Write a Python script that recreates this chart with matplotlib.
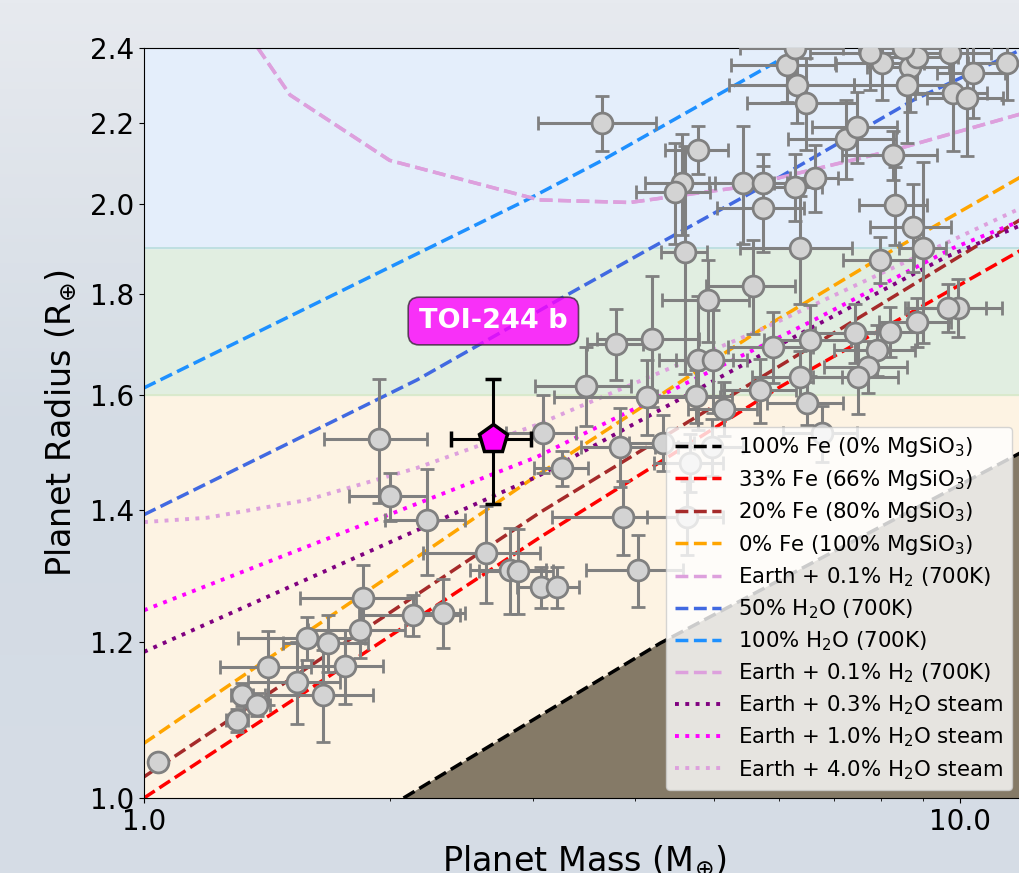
import numpy as np
import matplotlib.pyplot as plt
from matplotlib.ticker import FixedLocator, FixedFormatter, NullLocator, NullFormatter
from matplotlib.colors import LinearSegmentedColormap

# --- composition curves (mass in Earth masses, radius in Earth radii) ---
fe100_m = [2.08, 4.29, 12.0]
fe100_r = [1.0, 1.198, 1.50]

fe33_m = [1.0, 3.06, 6.02, 12.0]
fe33_r = [1.0, 1.356, 1.616, 1.90]

fe20_m = [1.0, 3.06, 5.69, 10.29, 12.0]
fe20_r = [1.025, 1.396, 1.633, 1.896, 1.97]

fe0_m = [1.0, 3.06, 5.69, 8.28, 12.0]
fe0_r = [1.066, 1.461, 1.727, 1.896, 2.07]

h2_m = [1.379, 1.51, 2.0, 3.05, 3.94, 4.89, 5.38, 6.37, 8.28, 12.0]
h2_r = [2.40, 2.272, 2.105, 2.010, 2.004, 2.029, 2.040, 2.075, 2.13, 2.225]

h2o50_m = [1.0, 2.16, 3.30, 4.14, 6.02, 8.76, 12.0]
h2o50_r = [1.392, 1.629, 1.799, 1.896, 2.065, 2.258, 2.40]

h2o100_m = [1.0, 2.945, 3.62, 5.80, 6.5]
h2o100_r = [1.614, 2.010, 2.102, 2.347, 2.41]

steam03_m = [1.0, 3.03, 6.55, 9.6, 12.0]
steam03_r = [1.186, 1.455, 1.730, 1.88, 1.955]

steam10_m = [1.0, 3.03, 6.55, 9.8, 12.0]
steam10_r = [1.245, 1.489, 1.743, 1.90, 1.965]

steam40_m = [1.0, 1.195, 1.584, 2.16, 3.03, 5.69, 12.0]
steam40_r = [1.380, 1.387, 1.416, 1.470, 1.546, 1.727, 1.995]

# --- known small planets ---
pl_mass = [1.04, 1.30, 1.32, 1.375, 1.42, 1.54, 1.584, 1.68, 1.657, 1.763,
           1.839, 1.855, 2.136, 2.325, 2.002, 2.223, 1.941, 2.625, 2.809, 2.873,
           3.066, 3.208, 3.08, 3.253, 3.481, 3.787, 4.193, 4.134, 4.603, 4.911,
           5.577, 4.775, 4.981, 4.748, 5.138, 5.688, 3.831, 4.325, 4.967, 4.668,
           3.864, 4.629, 4.031,
           3.641, 4.775, 4.564, 4.475, 5.422, 5.736, 5.736, 6.279, 6.644, 7.251,
           7.480, 8.277, 6.368, 8.323, 8.758, 7.980, 9.009, 9.943, 9.667, 8.857,
           8.207, 7.437, 6.551, 5.900, 7.912, 7.714, 7.499, 6.368, 6.495, 6.776,
           6.138, 6.314, 6.477, 6.279, 8.025, 7.757, 8.683, 8.857, 8.610, 8.513,
           9.721, 10.37, 11.42, 9.804, 10.20]
pl_mass_err = [0.02, 0.04, 0.04, 0.05, 0.18, 0.20, 0.28, 0.20, 0.25, 0.20,
               0.25, 0.30, 0.30, 0.15, 0.22, 0.25, 0.28, 0.43, 0.30, 0.30,
               0.20, 0.20, 0.30, 0.25, 0.47, 0.30, 0.60, 0.95, 0.30, 0.60,
               0.70, 0.50, 0.50, 0.50, 0.50, 0.60, 0.40, 0.40, 0.45, 0.45,
               0.70, 0.50, 0.55,
               0.60, 0.42, 0.45, 0.47, 0.50, 0.40, 0.70, 0.50, 0.45, 1.10,
               0.90, 1.10, 1.00, 0.80, 1.00, 0.80, 0.60, 1.30, 1.10, 0.90,
               0.80, 0.80, 0.80, 0.70, 0.90, 0.90, 0.90, 0.80, 0.70, 0.70,
               0.90, 1.10, 1.00, 0.90, 1.00, 1.20, 1.00, 1.10, 1.20, 1.00,
               1.20, 1.00, 1.20, 1.00, 1.10]
pl_radius = [1.043, 1.095, 1.128, 1.115, 1.165, 1.145, 1.205, 1.198, 1.128, 1.166,
             1.217, 1.263, 1.238, 1.241, 1.422, 1.383, 1.521, 1.331, 1.305, 1.304,
             1.279, 1.279, 1.531, 1.470, 1.618, 1.699, 1.709, 1.597, 1.891, 1.788,
             1.818, 1.667, 1.667, 1.599, 1.575, 1.610, 1.507, 1.514, 1.507, 1.479,
             1.388, 1.388, 1.305,
             2.199, 2.131, 2.050, 2.029, 2.050, 2.050, 1.991, 2.040, 2.063, 2.159,
             2.189, 2.118, 1.900, 1.998, 1.947, 1.874, 1.900, 1.772, 1.772, 1.743,
             1.723, 1.721, 1.707, 1.693, 1.687, 1.654, 1.635, 1.635, 1.586, 1.531,
             2.353, 2.298, 2.251, 2.400, 2.358, 2.386, 2.347, 2.375, 2.298, 2.400,
             2.386, 2.331, 2.358, 2.278, 2.265]
pl_radius_err = [0.01, 0.015, 0.015, 0.015, 0.05, 0.055, 0.03, 0.04, 0.06, 0.05,
                 0.04, 0.05, 0.03, 0.05, 0.04, 0.085, 0.11, 0.075, 0.065, 0.065,
                 0.03, 0.03, 0.07, 0.03, 0.075, 0.07, 0.13, 0.07, 0.25, 0.085,
                 0.10, 0.13, 0.10, 0.05, 0.05, 0.06, 0.07, 0.05, 0.05, 0.05,
                 0.06, 0.06, 0.055,
                 0.07, 0.06, 0.12, 0.12, 0.14, 0.07, 0.10, 0.08, 0.08, 0.10,
                 0.09, 0.06, 0.12, 0.09, 0.10, 0.05, 0.20, 0.06, 0.05, 0.05,
                 0.05, 0.06, 0.07, 0.07, 0.05, 0.05, 0.07, 0.05, 0.04, 0.05,
                 0.10, 0.10, 0.12, 0.10, 0.10, 0.10, 0.12, 0.10, 0.15, 0.10,
                 0.10, 0.12, 0.10, 0.15, 0.15]

# TOI-244 b
toi_mass, toi_mass_err = 2.68, 0.30
toi_radius, toi_radius_err = 1.52, 0.11

yticks = [1.0, 1.2, 1.4, 1.6, 1.8, 2.0, 2.2, 2.4]

fig = plt.figure(figsize=(10.19, 8.73), dpi=100)

# soft grey-blue backdrop
bg = fig.add_axes([0, 0, 1, 1], zorder=-10)
grad = np.linspace(0, 1, 256).reshape(-1, 1)
bg.imshow(grad, aspect='auto', cmap=LinearSegmentedColormap.from_list('bg', ['#e7eaef', '#d3dbe4', '#d6dde6']),
          extent=[0, 1, 0, 1])
bg.set_axis_off()

ax = fig.add_axes([144/1019, 75/873, 880.6/1019, 750/873])
ax.set_xscale('log')
ax.set_yscale('log')

# radius regimes
ax.axhspan(1.0, 1.6, color='#fdf3e3', zorder=0)
ax.axhspan(1.6, 1.9, color='#e1eee1', zorder=0)
ax.axhspan(1.9, 2.4, color='#e4eefb', zorder=0)
ax.axhline(1.6, color='#d8e8c8', lw=1.2, zorder=0.5)
ax.axhline(1.9, color='#b8dcdc', lw=1.2, zorder=0.5)

# forbidden region below pure iron
ax.fill_between(fe100_m, fe100_r, 0.9, color='#857a67', zorder=1)

lw = 2.5
ax.plot(fe100_m, fe100_r, '--', color='black', lw=lw, zorder=2, label=r'100% Fe (0% MgSiO$_3$)')
ax.plot(fe33_m, fe33_r, '--', color='red', lw=lw, zorder=2, label=r'33% Fe (66% MgSiO$_3$)')
ax.plot(fe20_m, fe20_r, '--', color='brown', lw=lw, zorder=2, label=r'20% Fe (80% MgSiO$_3$)')
ax.plot(fe0_m, fe0_r, '--', color='orange', lw=lw, zorder=2, label=r'0% Fe (100% MgSiO$_3$)')
ax.plot(h2_m, h2_r, '--', color='plum', lw=lw, zorder=2, label=r'Earth + 0.1% H$_2$ (700K)')
ax.plot(h2o50_m, h2o50_r, '--', color='royalblue', lw=lw, zorder=2, label=r'50% H$_2$O (700K)')
ax.plot(h2o100_m, h2o100_r, '--', color='dodgerblue', lw=lw, zorder=2, label=r'100% H$_2$O (700K)')
ax.plot(h2_m, h2_r, '--', color='plum', lw=lw, zorder=2, label=r'Earth + 0.1% H$_2$ (700K)')
ax.plot(steam03_m, steam03_r, ':', color='purple', lw=2.8, zorder=2, label=r'Earth + 0.3% H$_2$O steam')
ax.plot(steam10_m, steam10_r, ':', color='magenta', lw=2.8, zorder=2, label=r'Earth + 1.0% H$_2$O steam')
ax.plot(steam40_m, steam40_r, ':', color='plum', lw=2.8, zorder=2, label=r'Earth + 4.0% H$_2$O steam')

ax.errorbar(pl_mass, pl_radius, xerr=pl_mass_err, yerr=pl_radius_err, fmt='o',
            ms=15, mfc='lightgray', mec='gray', mew=2, ecolor='gray',
            elinewidth=2.2, capsize=5, capthick=2, zorder=3)

ax.errorbar(toi_mass, toi_radius, xerr=toi_mass_err, yerr=toi_radius_err, fmt='p',
            ms=21, mfc='magenta', mec='black', mew=2.5, ecolor='black',
            elinewidth=2.2, capsize=6, capthick=2, zorder=5)
ax.text(toi_mass, 1.745, 'TOI-244 b', ha='center', va='center', fontsize=19.5,
        fontweight='bold', color='white', zorder=6,
        bbox=dict(boxstyle='round,pad=0.4', fc='magenta', ec='#3a2a3a', lw=1.2, alpha=0.8))

ax.set_xlim(1, 12)
ax.set_ylim(1, 2.4)
ax.xaxis.set_major_locator(FixedLocator([1, 10]))
ax.xaxis.set_major_formatter(FixedFormatter(['1.0', '10.0']))
ax.xaxis.set_minor_locator(FixedLocator([2, 3, 4, 5, 6, 7, 8, 9]))
ax.xaxis.set_minor_formatter(NullFormatter())
ax.yaxis.set_major_locator(FixedLocator(yticks))
ax.yaxis.set_major_formatter(FixedFormatter([f'{t:.1f}' for t in yticks]))
ax.yaxis.set_minor_locator(NullLocator())
ax.tick_params(labelsize=20)

ax.set_xlabel(r'Planet Mass (M$_{\oplus}$)', fontsize=24, labelpad=6)
ax.set_ylabel(r'Planet Radius (R$_{\oplus}$)', fontsize=24, labelpad=8)

leg = ax.legend(loc='lower right', bbox_to_anchor=(1012/1019, 83/873),
                bbox_transform=fig.transFigure, fontsize=15.3, framealpha=0.8,
                borderaxespad=0, handlelength=2.2, labelspacing=0.4)
leg.set_zorder(10)

fig.savefig('out.png', dpi=100)
